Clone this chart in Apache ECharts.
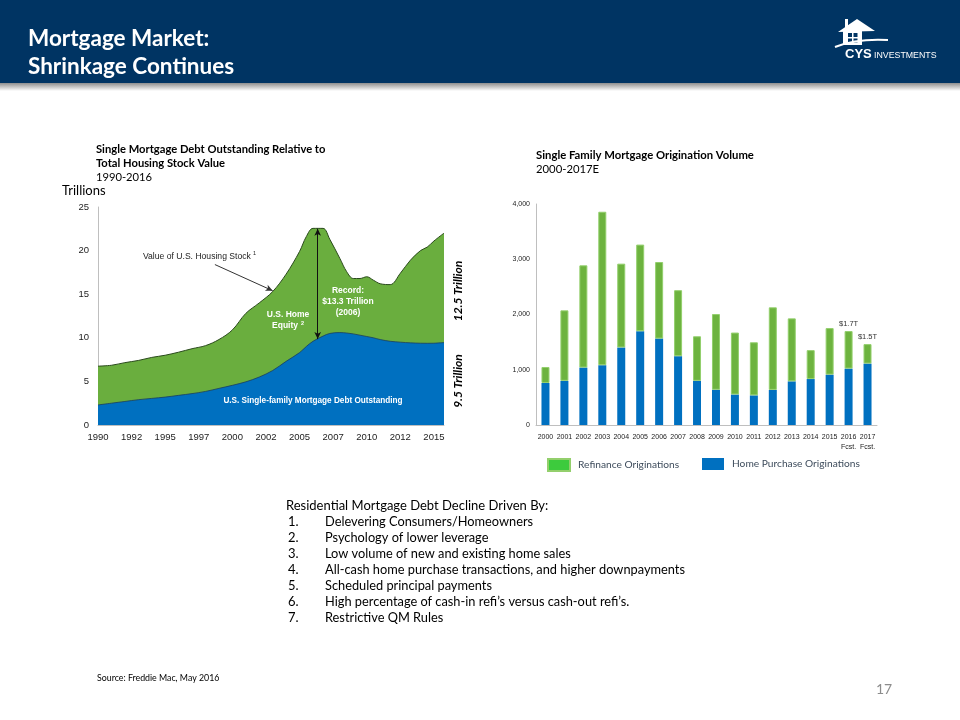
<!DOCTYPE html>
<html><head><meta charset="utf-8">
<script src="https://cdn.jsdelivr.net/npm/echarts@6/dist/echarts.min.js"></script>
<style>html,body{margin:0;padding:0;background:#fff}#c{width:960px;height:720px}</style>
</head><body><div id="c"></div>
<script>
// ---- Left chart data (trillions of dollars) ----
const stockYears = [1990,1991,1992,1993,1994,1995,1996,1997,1998,1999,2000,2001,2002,2003,2004,2005,2005.5,2006,2006.75,2007.25,2008,2008.5,2009,2009.5,2010,2010.5,2011,2011.75,2012.5,2013.25,2014,2014.5,2015,2015.75];
const housingStock = [6.75,6.85,7.15,7.4,7.75,8.0,8.35,8.75,9.1,9.8,10.9,12.8,14.0,15.3,17.3,19.9,21.6,22.55,22.55,21.3,19.1,17.6,16.8,16.8,17.0,16.6,16.2,16.1,17.4,18.9,20.0,20.4,21.1,22.0];
const mortgageDebt = [2.3,2.5,2.7,2.9,3.05,3.2,3.4,3.6,3.85,4.2,4.55,4.95,5.5,6.25,7.3,8.3,9.0,9.6,10.2,10.5,10.6,10.55,10.45,10.3,10.15,10.0,9.8,9.6,9.5,9.42,9.38,9.37,9.38,9.45];
const leftYTicks = [0,5,10,15,20,25];

// ---- Right chart data (billions of dollars) ----
const origYears = ['2000','2001','2002','2003','2004','2005','2006','2007','2008','2009','2010','2011','2012','2013','2014','2015','2016\nFcst.','2017\nFcst.'];
const purchaseOrig = [760,800,1040,1082,1403,1697,1564,1245,800,638,552,536,636,790,832,912,1021,1112];
const refiOrig = [290,1275,1850,2778,1517,1568,1386,1195,806,1370,1121,961,1494,1140,523,842,679,352];
const barTopLabels = ['','','','','','','','','','','','','','','','','$1.7T','$1.5T'];

const listItems = [
  'Delevering Consumers/Homeowners',
  'Psychology of lower leverage',
  'Low volume of new and existing home sales',
  'All-cash home purchase transactions, and higher downpayments',
  'Scheduled principal payments',
  'High percentage of cash-in refi\u2019s versus cash-out refi\u2019s.',
  'Restrictive QM Rules'
];

const GREEN = '#6AAE3E', BLUE = '#0070C0', NAVY = '#003463';
const ARIAL = '"Liberation Sans",Arial,sans-serif';
const CAL = 'Lato,"Open Sans",sans-serif';

const chart = echarts.init(document.getElementById('c'), null, {renderer:'canvas'});

const Z = 100;
const graphics = [
  {type:'rect', shape:{x:0,y:0,width:960,height:83}, style:{fill:NAVY}, z:0},
  {type:'rect', shape:{x:0,y:83,width:960,height:8}, style:{fill:new echarts.graphic.LinearGradient(0,0,0,1,[{offset:0,color:'#8e8e8e'},{offset:1,color:'#ffffff'}])}, z:0},
  {type:'text', left:28, top:27, style:{text:'Mortgage Market:', fill:'#fff', font:'bold 22.5px '+CAL}},
  {type:'text', left:28, top:55, style:{text:'Shrinkage Continues', fill:'#fff', font:'bold 22.5px '+CAL}},
  // logo
  {type:'rect', shape:{x:845,y:19,width:3,height:9}, style:{fill:'#fff'}},
  {type:'polygon', shape:{points:[[838,32],[857,19],[875,31]]}, style:{fill:'#fff'}},
  {type:'rect', shape:{x:843,y:30,width:19,height:15}, style:{fill:'#fff'}},
  {type:'rect', shape:{x:848,y:33,width:4,height:4}, style:{fill:NAVY}},
  {type:'rect', shape:{x:853.5,y:33,width:4,height:4}, style:{fill:NAVY}},
  {type:'rect', shape:{x:848,y:38.5,width:4,height:4}, style:{fill:NAVY}},
  {type:'rect', shape:{x:853.5,y:38.5,width:4,height:4}, style:{fill:NAVY}},
  {type:'bezierCurve', shape:{x1:835,y1:47,x2:888,y2:40,cpx1:850,cpy1:41,cpx2:870,cpy2:39}, style:{stroke:'#fff',lineWidth:2,fill:null}},
  {type:'text', left:845, top:48, style:{text:'CYS', fill:'#fff', font:'bold 13px '+ARIAL}},
  {type:'text', left:874, top:51, style:{text:'INVESTMENTS', fill:'#fff', font:'8.8px '+ARIAL}},
  // left titles
  {type:'text', left:96, top:144, style:{text:'Single Mortgage Debt Outstanding Relative to', fill:'#000', font:'bold 11.2px '+CAL}},
  {type:'text', left:96, top:158, style:{text:'Total Housing Stock Value', fill:'#000', font:'bold 11.2px '+CAL}},
  {type:'text', left:96, top:172, style:{text:'1990-2016', fill:'#000', font:'11.2px '+CAL}},
  {type:'text', left:62, top:184, style:{text:'Trillions', fill:'#000', font:'13px '+CAL}},
  // right titles
  {type:'text', left:536, top:150, style:{text:'Single Family Mortgage Origination Volume', fill:'#000', font:'bold 11.3px '+CAL}},
  {type:'text', left:536, top:164, style:{text:'2000-2017E', fill:'#000', font:'11.3px '+CAL}},
  // left annotations
  {type:'text', left:143, top:252, z:Z, style:{text:'Value of U.S. Housing Stock', fill:'#222', font:'8.6px '+ARIAL}},
  {type:'text', left:253, top:250, z:Z, style:{text:'1', fill:'#222', font:'5.5px '+ARIAL}},
  {type:'text', x:288, y:315, z:Z, style:{text:'U.S. Home', fill:'#fff', font:'bold 8.5px '+ARIAL, align:'center', verticalAlign:'middle'}},
  {type:'text', x:285, y:326, z:Z, style:{text:'Equity', fill:'#fff', font:'bold 8.5px '+ARIAL, align:'center', verticalAlign:'middle'}},
  {type:'text', x:302.5, y:323, z:Z, style:{text:'2', fill:'#fff', font:'bold 5.5px '+ARIAL, align:'center', verticalAlign:'middle'}},
  {type:'text', x:348, y:291, z:Z, style:{text:'Record:', fill:'#fff', font:'bold 8.5px '+ARIAL, align:'center', verticalAlign:'middle'}},
  {type:'text', x:348, y:302, z:Z, style:{text:'$13.3 Trillion', fill:'#fff', font:'bold 8.5px '+ARIAL, align:'center', verticalAlign:'middle'}},
  {type:'text', x:348, y:313, z:Z, style:{text:'(2006)', fill:'#fff', font:'bold 8.5px '+ARIAL, align:'center', verticalAlign:'middle'}},
  {type:'text', x:313, y:401, z:Z, style:{text:'U.S. Single-family Mortgage Debt Outstanding', fill:'#fff', font:'bold 8.2px '+ARIAL, align:'center', verticalAlign:'middle'}},
  {type:'text', x:458, y:291, rotation:Math.PI/2, z:Z, style:{text:'12.5 Trillion', fill:'#000', font:'italic bold 12px '+CAL, align:'center', verticalAlign:'middle'}},
  {type:'text', x:458, y:381, rotation:Math.PI/2, z:Z, style:{text:'9.5 Trillion', fill:'#000', font:'italic bold 12px '+CAL, align:'center', verticalAlign:'middle'}},
  // bullet text
  {type:'text', left:286, top:499, style:{text:'Residential Mortgage Debt Decline Driven By:', fill:'#000', font:'13px '+CAL}},
  // source + page
  {type:'text', left:97, top:674, style:{text:'Source: Freddie Mac, May 2016', fill:'#000', font:'8.8px '+CAL}},
  {type:'text', left:876, top:682, style:{text:'17', fill:'#8c8c8c', font:'14px '+CAL}}
];
listItems.forEach((t,i)=>{
  graphics.push({type:'text', left:288, top:515+i*16, style:{text:(i+1)+'.', fill:'#000', font:'13px '+CAL}});
  graphics.push({type:'text', left:325, top:515+i*16, style:{text:t, fill:'#000', font:'12.8px '+CAL}});
});

const isTick = v => Math.abs(v/2.5 - Math.round(v/2.5)) < 1e-6;

const option = {
  animation:false,
  backgroundColor:'#fff',
  graphic: graphics,
  legend:[
    {left:542, top:453, itemWidth:22, itemHeight:12, itemGap:8, icon:'rect', selectedMode:false,
     textStyle:{fontFamily:CAL, fontSize:10.2, color:'#3e4c5c', padding:[0,0,0,3]},
     data:[{name:'Refinance Originations', itemStyle:{color:'#3DCB3D'}}]},
    {left:697, top:453, itemWidth:22, itemHeight:12, itemGap:8, icon:'rect', selectedMode:false,
     textStyle:{fontFamily:CAL, fontSize:10.2, color:'#3e4c5c', padding:[0,0,0,3]},
     data:[{name:'Home Purchase Originations', itemStyle:{color:BLUE}}]}
  ],
  grid:[
    {left:98, top:207, width:346, height:218},
    {left:536, top:204, width:341, height:221}
  ],
  xAxis:[
    {type:'value', gridIndex:0, min:1990, max:2015.75, interval:2.5,
     axisLine:{show:true, lineStyle:{color:'#bfbfbf'}}, axisTick:{show:false}, splitLine:{show:false},
     axisLabel:{fontFamily:ARIAL, fontSize:9.5, color:'#222', margin:7,
       formatter: v => isTick(v) ? String(Math.floor(v)) : ''}},
    {type:'category', gridIndex:1, data:origYears,
     axisLine:{show:true, lineStyle:{color:'#bfbfbf'}}, axisTick:{show:false},
     axisLabel:{interval:0, fontFamily:ARIAL, fontSize:7, color:'#222', margin:7, lineHeight:10}}
  ],
  yAxis:[
    {type:'value', gridIndex:0, min:leftYTicks[0], max:leftYTicks[leftYTicks.length-1], interval:5,
     axisLine:{show:true, lineStyle:{color:'#bfbfbf'}}, axisTick:{show:false}, splitLine:{show:false},
     axisLabel:{fontFamily:ARIAL, fontSize:9.5, color:'#222', margin:9}},
    {type:'value', gridIndex:1, min:0, max:4000, interval:1000,
     axisLine:{show:true, lineStyle:{color:'#bfbfbf'}}, axisTick:{show:false}, splitLine:{show:false},
     axisLabel:{fontFamily:ARIAL, fontSize:7, color:'#222', margin:6,
       formatter: v => v.toLocaleString('en-US')}}
  ],
  series:[
    {name:'Value of U.S. Housing Stock', type:'line', xAxisIndex:0, yAxisIndex:0,
     data: stockYears.map((y,i)=>[y, housingStock[i]]), smooth:0.35, symbol:'none',
     lineStyle:{color:'#2a4a1c', width:1}, areaStyle:{color:GREEN, opacity:1},
     markLine:{silent:true, symbol:['none','arrow'], symbolSize:[5,7], label:{show:false},
       lineStyle:{color:'#333', width:1, type:'solid'},
       data:[[{coord:[1998.7,18.4]},{coord:[2003.0,15.4]}]]}},
    {name:'U.S. Single-family Mortgage Debt Outstanding', type:'line', xAxisIndex:0, yAxisIndex:0,
     data: stockYears.map((y,i)=>[y, mortgageDebt[i]]), smooth:0.35, symbol:'none',
     lineStyle:{color:'#1b3d5e', width:0.8}, areaStyle:{color:BLUE, opacity:1},
     markLine:{silent:true, symbol:['arrow','arrow'], symbolSize:[5,7], label:{show:false},
       lineStyle:{color:'#111', width:1, type:'solid'},
       data:[[{coord:[2006.35,22.5]},{coord:[2006.35,9.85]}]]}},
    {name:'Home Purchase Originations', type:'bar', xAxisIndex:1, yAxisIndex:1, stack:'orig',
     barWidth:8, data: purchaseOrig, itemStyle:{color:BLUE}},
    {name:'Refinance Originations', type:'bar', xAxisIndex:1, yAxisIndex:1, stack:'orig',
     barWidth:8, itemStyle:{color:'#6DB33F', borderColor:'#93cf6c', borderWidth:1},
     data: refiOrig.map((v,i)=>({value:v, label:{show: barTopLabels[i] !== '', formatter: barTopLabels[i]}})),
     label:{position:'top', distance:3, fontFamily:ARIAL, fontSize:7.5, color:'#333'}}
  ]
};
chart.setOption(option);
</script></body></html>
